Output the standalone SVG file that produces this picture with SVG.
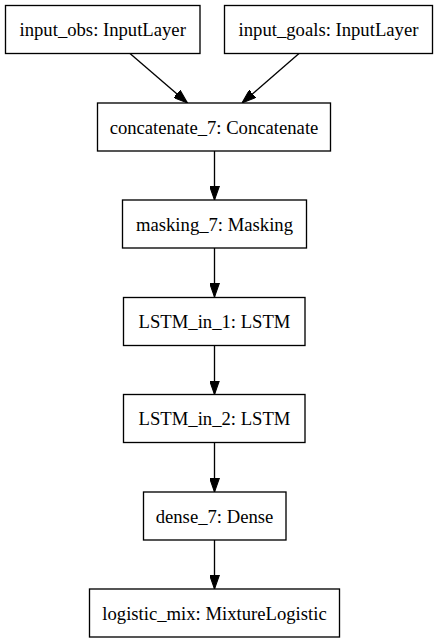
<svg xmlns="http://www.w3.org/2000/svg" width="437" height="644" viewBox="0 0 437 644">
<defs>
<style>
.box{fill:#fff;stroke:#000;stroke-width:1.33}
.lbl{font-family:"Liberation Serif","Times New Roman",serif;font-size:18.67px;text-anchor:middle;fill:#000}
.edge{stroke:#000;stroke-width:1.33;fill:none}
</style>
<marker id="ah" markerUnits="userSpaceOnUse" markerWidth="14" markerHeight="10" refX="13.3" refY="4.67" orient="auto" viewBox="0 0 13.3 9.34">
<path d="M0,0 L13.3,4.67 L0,9.34 Z" fill="#000" stroke="#000" stroke-width="1"/>
</marker>
</defs>
<rect width="437" height="644" fill="#fff"/>
<g id="connectors">
<line class="edge" x1="130" y1="53.5" x2="187.5" y2="103" marker-end="url(#ah)"/>
<line class="edge" x1="299" y1="53.5" x2="242" y2="103" marker-end="url(#ah)"/>
<line class="edge" x1="214.5" y1="151" x2="214.5" y2="200" marker-end="url(#ah)"/>
<line class="edge" x1="214.5" y1="248" x2="214.5" y2="297" marker-end="url(#ah)"/>
<line class="edge" x1="214.5" y1="345" x2="214.5" y2="394.5" marker-end="url(#ah)"/>
<line class="edge" x1="214.5" y1="442.5" x2="214.5" y2="492" marker-end="url(#ah)"/>
<line class="edge" x1="214.5" y1="540" x2="214.5" y2="589" marker-end="url(#ah)"/>
</g>
<g id="input_obs"><rect class="box" x="5.5" y="5.5" width="194.5" height="48"/><text class="lbl" x="102.7" y="36">input_obs: InputLayer</text></g>
<g id="input_goals"><rect class="box" x="224.5" y="5.5" width="208" height="48"/><text class="lbl" x="328.5" y="36">input_goals: InputLayer</text></g>
<g id="concatenate_7"><rect class="box" x="97.5" y="103" width="233" height="48"/><text class="lbl" x="214" y="133.5">concatenate_7: Concatenate</text></g>
<g id="masking_7"><rect class="box" x="122.5" y="200" width="184" height="48"/><text class="lbl" x="214.5" y="230.5">masking_7: Masking</text></g>
<g id="LSTM_in_1"><rect class="box" x="123.5" y="297.5" width="181.5" height="48"/><text class="lbl" x="214.5" y="328">LSTM_in_1: LSTM</text></g>
<g id="LSTM_in_2"><rect class="box" x="123.5" y="394.5" width="181.5" height="48"/><text class="lbl" x="214.5" y="425">LSTM_in_2: LSTM</text></g>
<g id="dense_7"><rect class="box" x="143.5" y="492" width="142.5" height="48"/><text class="lbl" x="214.5" y="522.5">dense_7: Dense</text></g>
<g id="logistic_mix"><rect class="box" x="89.5" y="589" width="250" height="48"/><text class="lbl" x="214.5" y="619.5">logistic_mix: MixtureLogistic</text></g>
</svg>
